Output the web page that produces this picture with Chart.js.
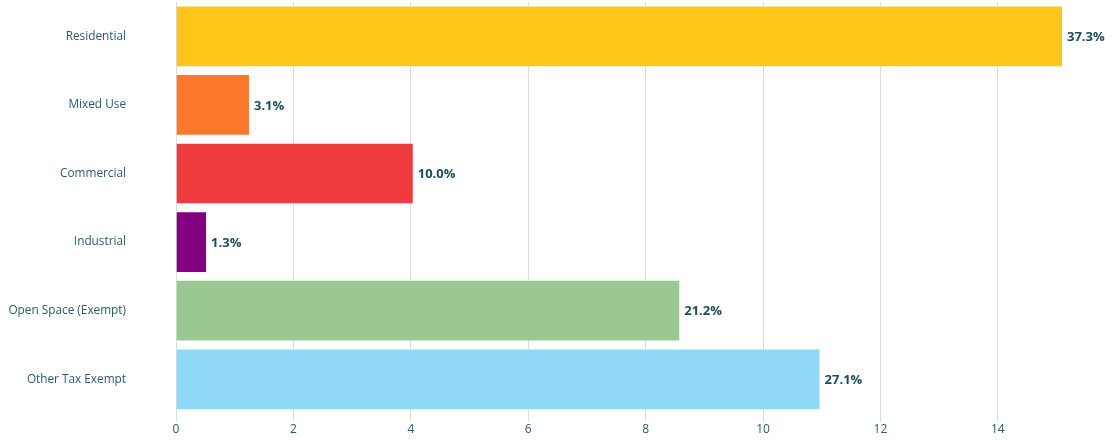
<!DOCTYPE html>
<html>
<head>
<meta charset="utf-8">
<script src="https://cdn.jsdelivr.net/npm/chart.js@4/dist/chart.umd.min.js"></script>
<style>
html,body{margin:0;padding:0;background:#fff;overflow:hidden;}
</style>
</head>
<body>
<canvas id="c" width="1114" height="440"></canvas>
<script>
const categories = ["Residential", "Mixed Use", "Commercial", "Industrial", "Open Space (Exempt)", "Other Tax Exempt"];
const values = [15.11, 1.26, 4.05, 0.53, 8.59, 10.98];
const percentLabels = ["37.3%", "3.1%", "10.0%", "1.3%", "21.2%", "27.1%"];
const barColors = ["#FEC619", "#FB792C", "#EF3A3E", "#800080", "#99C891", "#8FD8F6"];

const labelPlugin = {
  id: 'barLabels',
  afterDatasetsDraw(chart) {
    const ctx = chart.ctx;
    const meta = chart.getDatasetMeta(0);
    ctx.save();
    ctx.font = 'bold 13px "Open Sans"';
    ctx.fillStyle = '#1E4B5E';
    ctx.textBaseline = 'middle';
    ctx.textAlign = 'left';
    meta.data.forEach((bar, i) => {
      ctx.fillText(percentLabels[i], bar.x + 4, bar.y + 1);
    });
    ctx.restore();
  }
};

new Chart(document.getElementById('c'), {
  type: 'bar',
  data: {
    labels: categories,
    datasets: [{
      data: values,
      backgroundColor: barColors,
      borderColor: 'rgba(255,255,255,0.35)',
      borderWidth: 1,
      barPercentage: 0.9,
      categoryPercentage: 1.0
    }]
  },
  options: {
    indexAxis: 'y',
    responsive: false,
    animation: false,
    devicePixelRatio: 1,
    layout: { padding: { left: 0, right: 51, top: 2, bottom: 2 } },
    plugins: { legend: { display: false }, tooltip: { enabled: false } },
    scales: {
      x: {
        min: 0,
        max: 15.11,
        bounds: 'data',
        afterBuildTicks(scale) {
          scale.ticks = scale.ticks.filter(t => t.value % 2 === 0);
        },
        ticks: { stepSize: 2, color: '#2C5A6E', font: { family: 'Open Sans', size: 12 }, padding: 1 },
        grid: { color: '#DDDDDD', tickLength: 8, drawTicks: true },
        border: { display: false }
      },
      y: {
        afterFit(scale) {
          scale.width = 176;
          scale.paddingTop = 0;
          scale.paddingBottom = 0;
        },
        ticks: { color: '#2C5A6E', font: { family: 'Open Sans', size: 11.8 }, padding: 50 },
        grid: { display: false, drawTicks: false },
        border: { display: false }
      }
    }
  },
  plugins: [labelPlugin]
});
</script>
</body>
</html>
